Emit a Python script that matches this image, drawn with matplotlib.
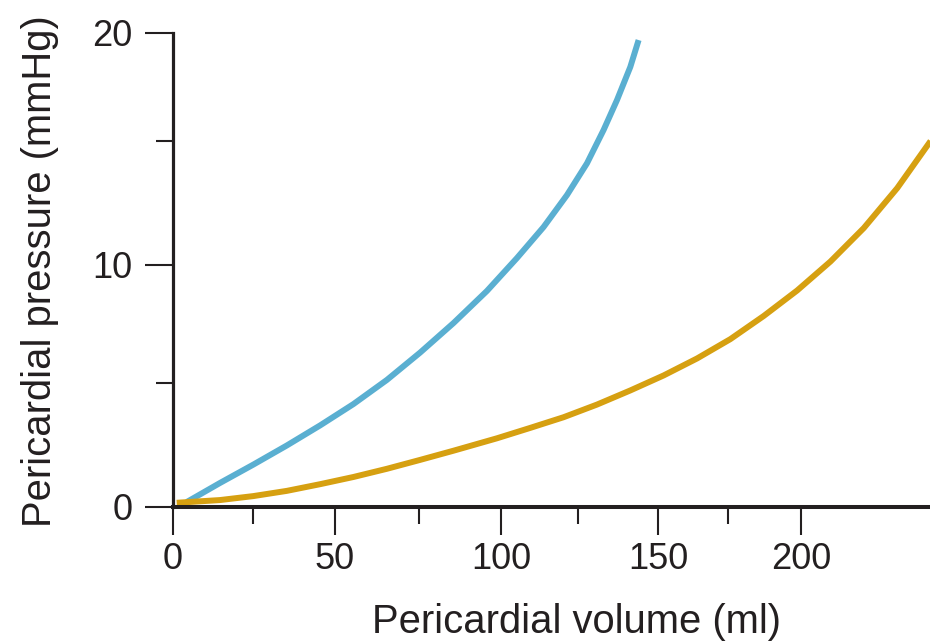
import matplotlib
matplotlib.use("Agg")
import matplotlib.pyplot as plt
import numpy as np

plt.rcParams['font.family'] = ['Liberation Sans', 'DejaVu Sans']

# curves (volume ml, pressure mmHg)
blue_vol = [4.4, 14.79, 25.18, 35.39, 45.57, 55.56, 65.45, 75.3, 85.46, 95.64,
            105.1, 113.73, 121.33, 127.72, 132.91, 137.09, 141.25, 143.84]
blue_pres = [0.2, 0.97, 1.71, 2.48, 3.29, 4.15, 5.13, 6.29, 7.54, 8.9,
             10.28, 11.53, 12.82, 14.1, 15.51, 16.89, 18.42, 19.66]

gold_vol = [1.28, 14.79, 25.18, 35.39, 45.57, 55.56, 65.45, 75.3, 85.46, 98.69,
            109.42, 120.23, 130.84, 141.25, 151.89, 163.82, 175.69, 187.09,
            198.53, 209.93, 221.34, 232.78, 244.2]
gold_pres = [0.17, 0.28, 0.44, 0.65, 0.92, 1.21, 1.54, 1.9, 2.27, 2.77,
             3.19, 3.62, 4.13, 4.7, 5.32, 6.04, 6.86, 7.84,
             8.92, 10.14, 11.49, 13.1, 15.0]

x_major = [0, 50, 100, 150, 200]
x_minor = [25, 75, 125, 175]
y_major = [0, 10, 20]
y_minor = [5, 15]

# the printed axes are not evenly spaced; calibrate them from the tick marks
x_knots = np.array([0, 25, 50, 75, 100, 125, 150, 175, 200], float)
x_px = np.array([0, 80.1, 161.9, 246.4, 328.4, 405.4, 485.4, 555.4, 628.4])
y_knots = np.array([0, 5, 10, 15, 20], float)
y_px = np.array([0, 124, 242, 366, 474.3])


def extrap_interp(v, xp, fp):
    v = np.asarray(v, dtype=float)
    s0 = (fp[1] - fp[0]) / (xp[1] - xp[0])
    s1 = (fp[-1] - fp[-2]) / (xp[-1] - xp[-2])
    out = np.interp(v, xp, fp)
    out = np.where(v < xp[0], fp[0] + (v - xp[0]) * s0, out)
    out = np.where(v > xp[-1], fp[-1] + (v - xp[-1]) * s1, out)
    return out


fig = plt.figure(figsize=(9.3, 6.41), dpi=100)
ax = fig.add_axes([172.6 / 930, (641 - 507) / 641, 1 - 172.6 / 930, 474.3 / 641])

ax.set_xscale('function', functions=(lambda v: extrap_interp(v, x_knots, x_px),
                                     lambda v: extrap_interp(v, x_px, x_knots)))
ax.set_yscale('function', functions=(lambda v: extrap_interp(v, y_knots, y_px),
                                     lambda v: extrap_interp(v, y_px, y_knots)))

ax.plot(blue_vol, blue_pres, color='#5aafd1', lw=4.3, solid_capstyle='butt',
        solid_joinstyle='round', zorder=3)
ax.plot(gold_vol, gold_pres, color='#d6a011', lw=4.3, solid_capstyle='butt',
        solid_joinstyle='round', zorder=3)

ax.set_xlim(0, 244)
ax.set_ylim(0, 20)

ink = '#231f20'
for side in ['top', 'right']:
    ax.spines[side].set_visible(False)
ax.spines['left'].set_linewidth(2.3)
ax.spines['bottom'].set_linewidth(2.9)
ax.spines['left'].set_color(ink)
ax.spines['bottom'].set_color(ink)
ax.spines['left'].set_zorder(4)
ax.spines['bottom'].set_zorder(4)

ax.set_xticks(x_major)
ax.set_xticks(x_minor, minor=True)
ax.set_yticks(y_major)
ax.set_yticks(y_minor, minor=True)
ax.set_xticklabels([str(v) for v in x_major])
ax.set_yticklabels([str(v) for v in y_major])

ax.tick_params(axis='both', which='major', length=20, width=1.5, color=ink,
               labelsize=26, labelcolor=ink)
ax.tick_params(axis='both', which='minor', length=12, width=1.5, color=ink)
ax.tick_params(axis='x', which='major', pad=5)
ax.tick_params(axis='y', which='major', pad=9)

ax.set_xlabel('Pericardial volume (ml)', fontsize=28.8, color=ink)
ax.set_ylabel('Pericardial pressure (mmHg)', fontsize=28.8, color=ink)
ax.xaxis.set_label_coords((576 - 172.6) / 757.4, -(603 - 507) / 474.3)
ax.yaxis.set_label_coords((59 - 172.6) / 757.4, (507 - 271) / 474.3)

fig.savefig('out.png', dpi=100)
